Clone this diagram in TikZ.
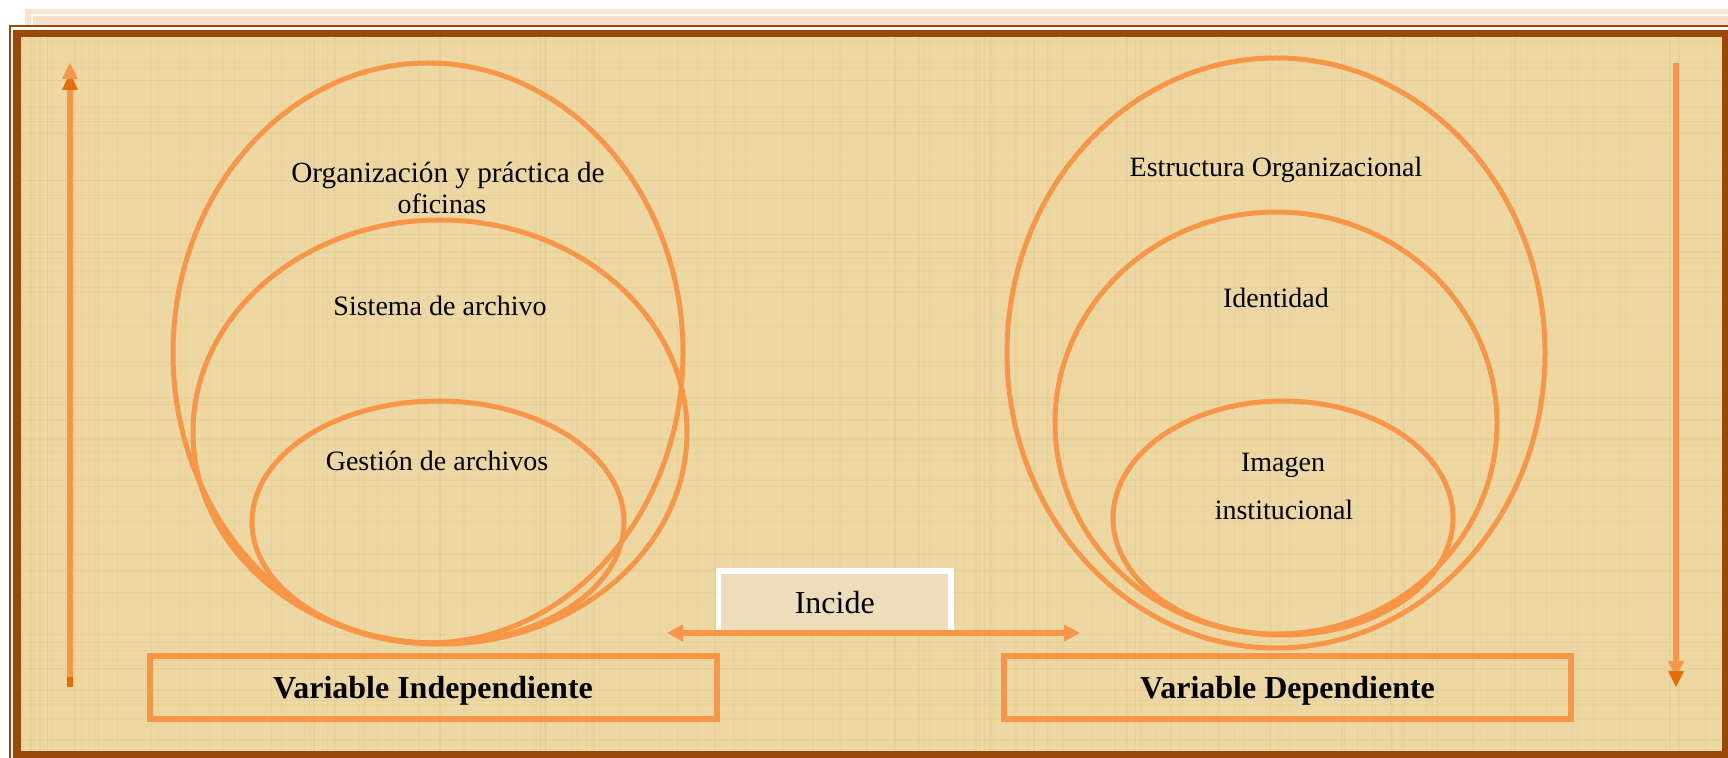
\documentclass[tikz,border=0pt]{standalone}
\usepackage{fontspec}
\setmainfont{Liberation Serif}
\usetikzlibrary{shapes.geometric,arrows.meta}
\definecolor{lor}{HTML}{F79646}
\definecolor{dor}{HTML}{E46C0A}
\definecolor{brn}{HTML}{984807}
\definecolor{peach}{HTML}{FCE2CC}
\definecolor{papy}{RGB}{237,215,162}
\definecolor{fiber}{RGB}{170,140,70}
\definecolor{incbg}{HTML}{EEDDBB}
\begin{document}
\begin{tikzpicture}[x=0.5pt,y=-0.5pt,
  ring/.style={ellipse,draw=lor,line width=2.5pt,inner sep=0pt},
  lbl/.style={font=\fontsize{14pt}{16pt}\selectfont,anchor=base,inner sep=0pt},
  varbox/.style={draw=lor,line width=3pt,minimum width=283.5pt,minimum height=31.5pt,
    inner sep=0pt,text depth=0pt,font=\bfseries\fontsize{16pt}{18pt}\selectfont},
  incbox/.style={draw=white,fill=incbg,line width=2.75pt,minimum width=116.25pt,
    minimum height=31pt,inner sep=0pt,text depth=0pt,font=\fontsize{16pt}{18pt}\selectfont},
  vline/.style={draw=lor,line width=3pt},
  harrow/.style={draw=lor,line width=3pt,
    {Triangle[length=8pt,width=8pt]}-{Triangle[length=8pt,width=8pt]}},
  fib/.style={draw=fiber,line width=0.6pt}
]
\useasboundingbox (0,0) rectangle (1728,758);
% frame
\fill[white] (0,0) rectangle (1728,758);
\fill[peach] (25,9) rectangle (1728,25);
\draw[white,line width=0.6pt] (32,25) -- (32,15) -- (1728,15);
\draw[brn,line width=1pt] (10,758) -- (10,26) -- (1728,26);
\fill[brn] (13,30) rectangle (1728,758);
\fill[papy] (21,37) rectangle (1722,751);
% faint papyrus fibres
\pgfmathsetseed{11}
\begin{scope}
\clip (21,37) rectangle (1722,751);
\foreach \i in {1,...,160}{
  \pgfmathsetmacro\xx{21+rnd*1701}
  \pgfmathsetmacro\oo{0.03+0.05*rnd}
  \draw[fib,opacity=\oo] (\xx,37) -- (\xx,751);
}
\foreach \i in {1,...,80}{
  \pgfmathsetmacro\yy{37+rnd*714}
  \pgfmathsetmacro\oo{0.03+0.05*rnd}
  \draw[fib,opacity=\oo] (21,\yy) -- (1722,\yy);
}
\end{scope}

% left group
\node[ring,minimum width=255pt,minimum height=290pt] (orgE) at (428,353) {};
\node[ring,minimum width=247pt,minimum height=212pt] (sisE) at (440,432) {};
\node[ring,minimum width=186pt,minimum height=121pt] (gesE) at (438,522) {};
\node[lbl,font=\fontsize{14.6pt}{16pt}\selectfont] (orgT1) at (448,183) {Organización y práctica de};
\node[lbl] (orgT2) at (442,214) {oficinas};
\node[lbl] (sisT) at (440,316) {Sistema de archivo};
\node[lbl] (gesT) at (437,471) {Gestión de archivos};

% right group
\node[ring,minimum width=269pt,minimum height=295pt] (estE) at (1276,353) {};
\node[ring,minimum width=221pt,minimum height=211pt] (ideE) at (1276,423) {};
\node[ring,minimum width=170pt,minimum height=117pt] (imaE) at (1283,518) {};
\node[lbl] (estT) at (1276,177) {Estructura Organizacional};
\node[lbl] (ideT) at (1276,308) {Identidad};
\node[lbl] (imaT1) at (1283,472) {Imagen};
\node[lbl] (imaT2) at (1284,520) {institucional};

% boxes
\node[varbox] (indep) at (433,687.5) {Variable Independiente};
\node[varbox] (dep) at (1287.5,687.5) {Variable Dependiente};
\node[incbox] (inc) at (834.75,602) {Incide};

% horizontal double arrow
\coordinate (hl) at (667,633);
\coordinate (hr) at (1080,633);
\draw[harrow] (hl) -- (hr);

% left vertical arrow (up)
\coordinate (va0) at (70,687);
\coordinate (va1) at (70,63);
\draw[vline,shorten >=5pt] (va0) -- (va1);
\fill[dor] (va1) ++(0,10) -- ++(8,17) -- ++(-16,0) -- cycle;
\fill[lor] (va1) -- ++(8,16) -- ++(-16,0) -- cycle;
\fill[dor] (va0) ++(-3,-10) rectangle ++(6,10);

% right vertical arrow (down)
\coordinate (vb0) at (1676,63);
\coordinate (vb1) at (1676,687);
\draw[vline,shorten >=8pt] (vb0) -- (vb1);
\fill[lor] (vb1) ++(0,-10) -- ++(8,-16) -- ++(-16,0) -- cycle;
\fill[dor] (vb1) -- ++(8,-16) -- ++(-16,0) -- cycle;
\end{tikzpicture}
\end{document}
